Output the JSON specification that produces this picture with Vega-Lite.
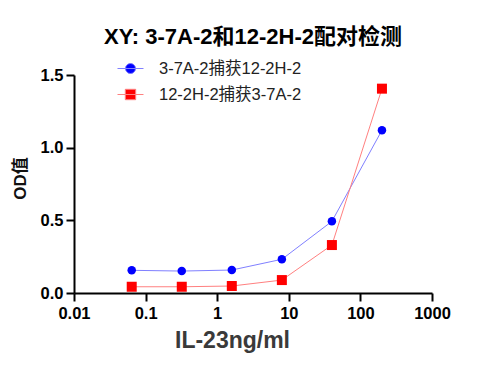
{
  "$schema": "https://vega.github.io/schema/vega-lite/v6.json",
  "width": 358,
  "height": 218,
  "autosize": "none",
  "padding": {"left": 74, "top": 75, "right": 45, "bottom": 89},
  "background": "white",
  "title": {
    "text": "XY: 3-7A-2和12-2H-2配对检测",
    "font": "Liberation Sans, Noto Sans CJK SC",
    "fontSize": 22,
    "fontWeight": "bold",
    "color": "#000000",
    "anchor": "middle",
    "frame": "group",
    "baseline": "alphabetic",
    "offset": 29,
    "dy": 36
  },
  "data": {
    "values": [
      {"series": "3-7A-2捕获12-2H-2", "conc": 0.064, "od": 0.156},
      {"series": "3-7A-2捕获12-2H-2", "conc": 0.32, "od": 0.151},
      {"series": "3-7A-2捕获12-2H-2", "conc": 1.6, "od": 0.158},
      {"series": "3-7A-2捕获12-2H-2", "conc": 8, "od": 0.232},
      {"series": "3-7A-2捕获12-2H-2", "conc": 40, "od": 0.493},
      {"series": "3-7A-2捕获12-2H-2", "conc": 200, "od": 1.12},
      {"series": "12-2H-2捕获3-7A-2", "conc": 0.064, "od": 0.043},
      {"series": "12-2H-2捕获3-7A-2", "conc": 0.32, "od": 0.043},
      {"series": "12-2H-2捕获3-7A-2", "conc": 1.6, "od": 0.048},
      {"series": "12-2H-2捕获3-7A-2", "conc": 8, "od": 0.089},
      {"series": "12-2H-2捕获3-7A-2", "conc": 40, "od": 0.33},
      {"series": "12-2H-2捕获3-7A-2", "conc": 200, "od": 1.406}
    ]
  },
  "encoding": {
    "x": {
      "field": "conc",
      "type": "quantitative",
      "scale": {"type": "log", "domain": [0.01, 1000]},
      "axis": {
        "values": [0.01, 0.1, 1, 10, 100, 1000],
        "labelExpr": "format(datum.value, '~g')",
        "title": "IL-23ng/ml",
        "grid": false,
        "domainColor": "#000000",
        "domainWidth": 2,
        "tickColor": "#000000",
        "tickWidth": 2,
        "tickSize": 8,
        "labelFont": "Liberation Sans",
        "labelFontSize": 16.5,
        "labelFontWeight": "bold",
        "labelColor": "#000000",
        "labelPadding": 4,
        "labelFlush": false,
        "labelOverlap": false,
        "titleFont": "Liberation Sans",
        "titleFontSize": 23,
        "titleFontWeight": "bold",
        "titleColor": "#3a3a3a",
        "titleX": 158,
        "titleY": 54,
        "titleAlign": "center",
        "titleBaseline": "alphabetic"
      }
    },
    "y": {
      "field": "od",
      "type": "quantitative",
      "scale": {"domain": [0, 1.5], "nice": false, "zero": true},
      "axis": {
        "values": [0, 0.5, 1, 1.5],
        "format": ".1f",
        "title": "OD值",
        "grid": false,
        "domainColor": "#000000",
        "domainWidth": 2,
        "tickColor": "#000000",
        "tickWidth": 2,
        "tickSize": 8,
        "labelFont": "Liberation Sans",
        "labelFontSize": 16.5,
        "labelFontWeight": "bold",
        "labelColor": "#000000",
        "labelPadding": 3,
        "labelFlush": false,
        "labelOverlap": false,
        "titleFont": "Liberation Sans, Noto Sans CJK SC",
        "titleFontSize": 17,
        "titleFontWeight": "bold",
        "titleColor": "#111111",
        "titleX": -54,
        "titleY": 103,
        "titleAlign": "center",
        "titleBaseline": "middle"
      }
    }
  },
  "layer": [
    {
      "transform": [{"filter": "datum.series === '3-7A-2捕获12-2H-2'"}],
      "mark": {"type": "line", "strokeWidth": 1, "color": "#8080ff"}
    },
    {
      "transform": [{"filter": "datum.series === '12-2H-2捕获3-7A-2'"}],
      "mark": {"type": "line", "strokeWidth": 1, "color": "#ff8080"}
    },
    {
      "transform": [{"filter": "datum.series === '3-7A-2捕获12-2H-2'"}],
      "mark": {"type": "point", "filled": true, "opacity": 1, "size": 72, "shape": "circle"},
      "encoding": {
        "color": {
          "field": "series",
          "type": "nominal",
          "scale": {
            "domain": ["3-7A-2捕获12-2H-2", "12-2H-2捕获3-7A-2"],
            "range": ["#0000ff", "#ff0000"]
          },
          "legend": {
            "title": null,
            "orient": "none",
            "legendX": 47,
            "legendY": -16,
            "padding": 0,
            "symbolSize": 300,
            "symbolType": {"expr": "datum.value === '3-7A-2捕获12-2H-2' ? 'M-1.5,0H1.5M-0.58,0A0.58,0.58 0 1,0 0.58,0A0.58,0.58 0 1,0 -0.58,0Z' : 'M-1.5,0H1.5M-0.6,-0.6H0.6V0.6H-0.6Z'"},
            "symbolStrokeColor": {"expr": "datum.value === '3-7A-2捕获12-2H-2' ? '#8080ff' : '#ff8080'"},
            "symbolStrokeWidth": 1,
            "symbolOpacity": 1,
            "labelFont": "Liberation Sans, Noto Sans CJK SC",
            "labelFontSize": 16.5,
            "labelColor": "#222222",
            "labelOffset": 19,
            "rowPadding": 8
          }
        }
      }
    },
    {
      "transform": [{"filter": "datum.series === '12-2H-2捕获3-7A-2'"}],
      "mark": {"type": "point", "filled": true, "opacity": 1, "size": 100, "shape": "square"},
      "encoding": {
        "color": {
          "field": "series",
          "type": "nominal",
          "scale": {
            "domain": ["3-7A-2捕获12-2H-2", "12-2H-2捕获3-7A-2"],
            "range": ["#0000ff", "#ff0000"]
          },
          "legend": {
            "title": null,
            "orient": "none",
            "legendX": 47,
            "legendY": -16,
            "padding": 0,
            "symbolSize": 300,
            "symbolType": {"expr": "datum.value === '3-7A-2捕获12-2H-2' ? 'M-1.5,0H1.5M-0.58,0A0.58,0.58 0 1,0 0.58,0A0.58,0.58 0 1,0 -0.58,0Z' : 'M-1.5,0H1.5M-0.6,-0.6H0.6V0.6H-0.6Z'"},
            "symbolStrokeColor": {"expr": "datum.value === '3-7A-2捕获12-2H-2' ? '#8080ff' : '#ff8080'"},
            "symbolStrokeWidth": 1,
            "symbolOpacity": 1,
            "labelFont": "Liberation Sans, Noto Sans CJK SC",
            "labelFontSize": 16.5,
            "labelColor": "#222222",
            "labelOffset": 19,
            "rowPadding": 8
          }
        }
      }
    }
  ],
  "config": {
    "view": {"stroke": null}
  }
}
